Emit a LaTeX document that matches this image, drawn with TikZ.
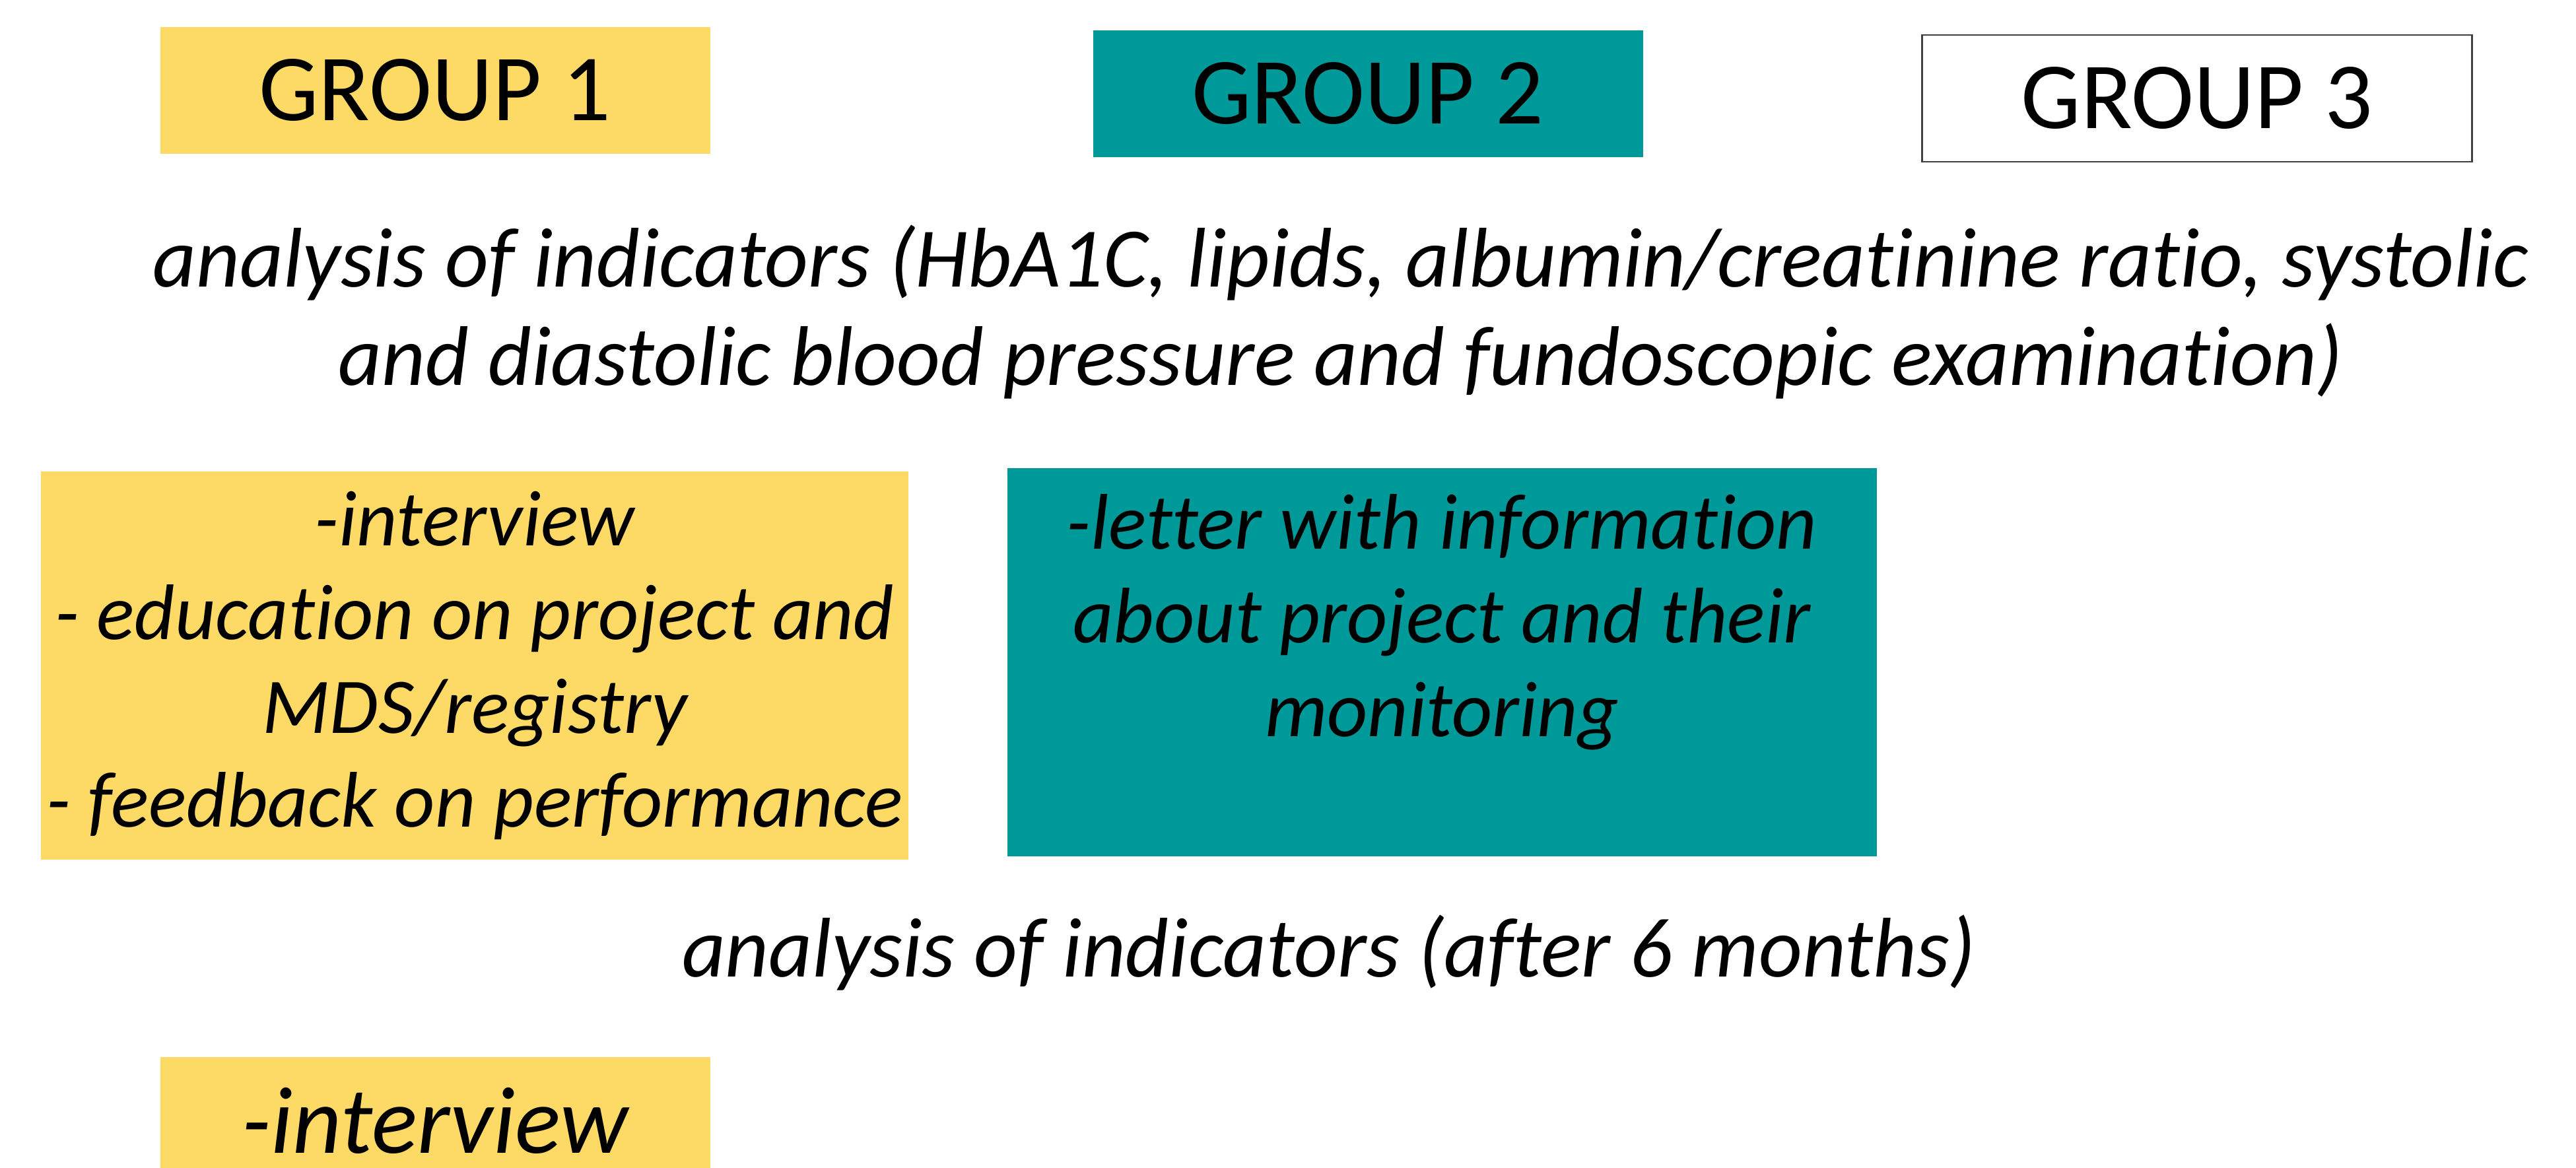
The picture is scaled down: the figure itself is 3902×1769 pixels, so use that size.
\documentclass[tikz,border=0pt]{standalone}
\usepackage{fontspec}
\setmainfont{Carlito}[Ligatures=NoCommon]
\usetikzlibrary{positioning}
\definecolor{grpYellow}{HTML}{FDD966}
\definecolor{grpTeal}{HTML}{009999}
\definecolor{grpEdge}{HTML}{404040}
\tikzset{
  groupbox/.style={rectangle, inner sep=0pt, minimum width=83.3mm, minimum height=19.2mm,
                   font=\fontsize{40.8}{48}\selectfont},
  stepbox/.style={rectangle, inner sep=0pt, align=center, minimum width=131.6mm,
                  minimum height=58.8mm, font=\itshape\fontsize{34}{40.4}\selectfont},
  notetext/.style={align=center, inner sep=0pt, font=\itshape\fontsize{36.5}{42.4}\selectfont},
}

\begin{document}
\begin{tikzpicture}[x=0.1mm, y=-0.1mm]
    \useasboundingbox (0,0) rectangle (3902,1769);
    \clip (0,0) rectangle (3902,1769);
    % the three groups
    \node[groupbox, fill=grpYellow] (g1) at (659,137) {GROUP 1};
    \node[groupbox, fill=grpTeal] (g2) at (2072,142) {GROUP 2};
    \node[groupbox, draw=grpEdge, line width=0.6pt] (g3) at (3328,149) {GROUP 3};
    % baseline analysis
    \node[notetext] (base) at (2031,473)
      {analysis of indicators (HbA1C, lipids, albumin/creatinine ratio, systolic\\
       and diastolic blood pressure and fundoscopic examination)};
    % interventions
    \node[stepbox, fill=grpYellow, minimum width=131.4mm, minimum height=58.7mm] (int1) at (719,1008)
      {-interview\\- education on project and\\MDS/registry\\- feedback on performance};
    \node[stepbox, fill=grpTeal, minimum width=131.7mm] (int2) at (2184,1003)
      {-letter with information\\about project and their\\monitoring\\\mbox{}};
    % follow-up
    \node[notetext] (follow) at (2013,1443) {analysis of indicators (after 6 months)};
    \node[groupbox, fill=grpYellow, font=\itshape\fontsize{41}{48}\selectfont] (int3)
      at (659,1697) {-interview};
\end{tikzpicture}
\end{document}
